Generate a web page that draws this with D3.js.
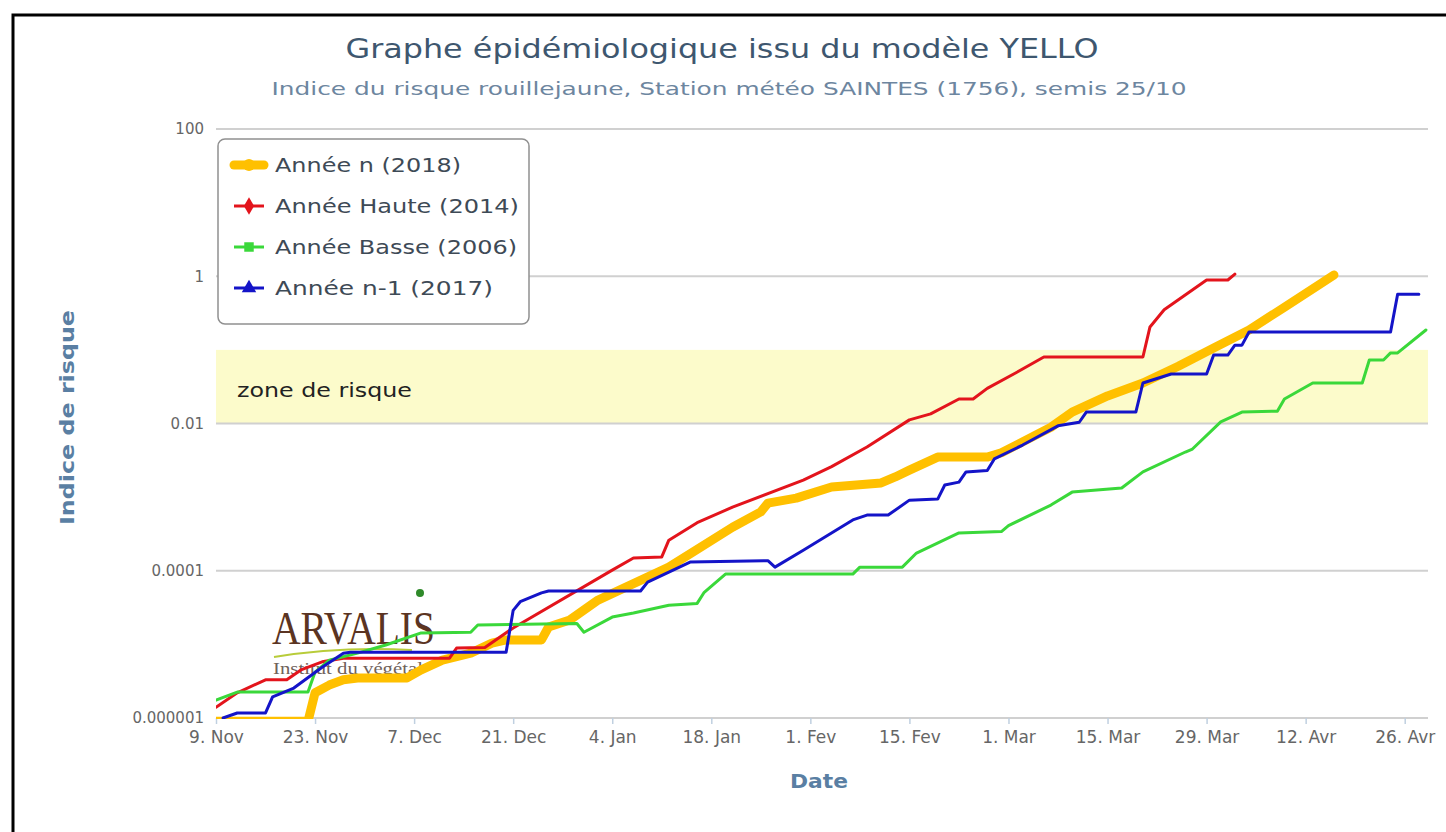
<!DOCTYPE html>
<html>
<head>
<meta charset="utf-8">
<title>Graphe épidémiologique issu du modèle YELLO</title>
<style>
  body { margin: 0; background: #fff; }
  svg { display: block; font-family: "DejaVu Sans", sans-serif; }
</style>
</head>
<body>
<script src="https://d3js.org/d3.v7.min.js"></script>
<script>

// series: [month-day, risk index]
var serieN = [["11-09",9e-7],["11-22",9e-7],["11-23",2.2e-6],["11-25",2.8e-6],["11-27",3.3e-6],["11-29",3.5e-6],
  ["12-06",3.5e-6],["12-08",4.5e-6],["12-11",6.1e-6],["12-15",7.6e-6],["12-18",1.04e-5],["12-20",1.15e-5],
  ["12-25",1.15e-5],["12-26",1.72e-5],["12-29",2.14e-5],["01-02",4.0e-5],["01-12",1.12e-4],["01-21",3.9e-4],
  ["01-25",6.3e-4],["01-26",8.3e-4],["01-30",9.7e-4],["02-04",1.37e-3],["02-11",1.56e-3],["02-13",1.88e-3],
  ["02-15",2.33e-3],["02-19",3.5e-3],["02-26",3.5e-3],["02-28",4.0e-3],["03-07",8.9e-3],["03-10",0.0143],
  ["03-15",0.0237],["03-20",0.0355],["03-25",0.060],["03-30",0.106],["04-04",0.186],["04-09",0.38],
  ["04-14",0.78],["04-16",1.04]];

var serieHaute = [["11-09",1.4e-6],["11-12",2.2e-6],["11-16",3.3e-6],["11-19",3.3e-6],["11-21",4.5e-6],["11-24",5.8e-6],
  ["11-27",6.5e-6],["12-12",6.5e-6],["12-13",8.9e-6],["12-17",9.1e-6],["12-21",1.67e-5],["01-04",1.02e-4],
  ["01-07",1.49e-4],["01-11",1.54e-4],["01-12",2.6e-4],["01-16",4.5e-4],["01-21",7.3e-4],["01-31",1.7e-3],
  ["02-04",2.6e-3],["02-09",4.8e-3],["02-15",0.0112],["02-18",0.0135],["02-22",0.0215],["02-24",0.0215],
  ["02-26",0.030],["03-02",0.0485],["03-06",0.08],["03-20",0.08],["03-21",0.205],["03-23",0.35],
  ["03-29",0.89],["04-01",0.89],["04-02",1.07]];

var serieBasse = [["11-09",1.75e-6],["11-12",2.25e-6],["11-22",2.25e-6],["11-23",4.2e-6],["11-25",6.1e-6],["11-29",7.6e-6],
  ["12-03",9.8e-6],["12-08",1.43e-5],["12-15",1.46e-5],["12-16",1.83e-5],["12-30",1.92e-5],["12-31",1.46e-5],
  ["01-04",2.35e-5],["01-07",2.67e-5],["01-12",3.4e-5],["01-16",3.6e-5],["01-17",5.1e-5],["01-20",9.0e-5],
  ["02-07",9.0e-5],["02-08",1.12e-4],["02-14",1.12e-4],["02-16",1.74e-4],["02-22",3.26e-4],["02-28",3.4e-4],
  ["03-01",4.1e-4],["03-07",7.8e-4],["03-10",1.17e-3],["03-17",1.33e-3],["03-20",2.2e-3],["03-26",4.1e-3],
  ["03-27",4.5e-3],["03-31",0.0105],["04-03",0.0143],["04-08",0.0147],["04-09",0.0215],["04-13",0.0355],
  ["04-20",0.0355],["04-21",0.073],["04-23",0.073],["04-24",0.091],["04-25",0.091],["04-29",0.186]];

var serieN1 = [["11-10",1e-6],["11-12",1.17e-6],["11-16",1.17e-6],["11-17",1.93e-6],["11-20",2.55e-6],["11-24",4.9e-6],
  ["11-27",7.6e-6],["11-28",7.8e-6],["12-20",7.8e-6],["12-21",2.9e-5],["12-22",3.8e-5],["12-25",5.0e-5],
  ["12-26",5.3e-5],["01-08",5.3e-5],["01-09",7.0e-5],["01-12",9.6e-5],["01-15",1.31e-4],["01-26",1.37e-4],
  ["01-27",1.12e-4],["01-31",1.9e-4],["02-07",4.9e-4],["02-09",5.7e-4],["02-12",5.7e-4],["02-15",9.1e-4],
  ["02-19",9.4e-4],["02-20",1.46e-3],["02-22",1.6e-3],["02-23",2.2e-3],["02-26",2.3e-3],["02-27",3.3e-3],
  ["03-03",5.1e-3],["03-08",9.3e-3],["03-11",0.0104],["03-12",0.0143],["03-19",0.0143],["03-20",0.0355],
  ["03-24",0.047],["03-29",0.047],["03-30",0.085],["04-01",0.085],["04-02",0.116],["04-03",0.116],
  ["04-04",0.175],["04-24",0.175],["04-25",0.57],["04-28",0.57]];

var seriesNames = ["Année n (2018)", "Année Haute (2014)", "Année Basse (2006)", "Année n-1 (2017)"];
var seriesColors = ["#ffc000", "#e3141c", "#3ad83a", "#1414c8"];
var seriesSymbols = ["circle", "diamond", "square", "triangle"];

var xTicks = ["11-09","11-23","12-07","12-21","01-04","01-18","02-01","02-15","03-01","03-15","03-29","04-12","04-26"];
var monthNames = ["Jan","Fev","Mar","Avr","Mai","Jun","Jul","Aou","Sep","Oct","Nov","Dec"];
var yTicks = [1e-6, 1e-4, 1e-2, 1, 100];
var yTickLabels = ["0.000001", "0.0001", "0.01", "1", "100"];
var zoneRisque = [0.01, 0.1];

// season runs nov 2017 -> apr 2018
function parseDay(s) {
    var m = +s.slice(0, 2), d = +s.slice(3, 5);
    return new Date(Date.UTC(m >= 9 ? 2017 : 2018, m - 1, d));
}

var W = 1446, H = 832;
var plot = {left: 216, right: 1428, top: 129, bottom: 718};

var x = d3.scaleUtc()
    .domain([parseDay("11-09"), new Date(Date.UTC(2018, 3, 29, 7))])
    .range([plot.left, plot.right]);
var y = d3.scaleLog()
    .domain([1e-6, 100])
    .range([plot.bottom, plot.top]);

var svg = d3.select("body").append("svg")
    .attr("width", W)
    .attr("height", H);

// outer frame
svg.append("rect")
    .attr("x", 13).attr("y", 15)
    .attr("width", W + 20).attr("height", H + 20)
    .attr("fill", "none")
    .attr("stroke", "#000")
    .attr("stroke-width", 3);

// titles
svg.append("text")
    .attr("x", 722).attr("y", 58)
    .attr("text-anchor", "middle")
    .attr("textLength", 753)
    .attr("lengthAdjust", "spacingAndGlyphs")
    .style("font-size", "27px")
    .style("fill", "#3e576f")
    .text("Graphe épidémiologique issu du modèle YELLO");

svg.append("text")
    .attr("x", 729).attr("y", 95)
    .attr("text-anchor", "middle")
    .attr("textLength", 915)
    .attr("lengthAdjust", "spacingAndGlyphs")
    .style("font-size", "18px")
    .style("fill", "#6d869f")
    .text("Indice du risque rouillejaune, Station météo SAINTES (1756), semis 25/10");

// zone de risque band
svg.append("rect")
    .attr("x", plot.left)
    .attr("y", y(zoneRisque[1]))
    .attr("width", plot.right - plot.left)
    .attr("height", y(zoneRisque[0]) - y(zoneRisque[1]))
    .attr("fill", "#fcfbcb");

svg.append("text")
    .attr("x", 237).attr("y", 397)
    .attr("textLength", 175)
    .attr("lengthAdjust", "spacingAndGlyphs")
    .style("font-size", "19px")
    .style("fill", "#222")
    .text("zone de risque");

// grid lines
svg.append("g").selectAll("line")
    .data(yTicks)
    .enter().append("line")
    .attr("x1", plot.left).attr("x2", plot.right)
    .attr("y1", function(d) { return y(d); })
    .attr("y2", function(d) { return y(d); })
    .attr("stroke", "#d0d0d0")
    .attr("stroke-width", 2);

// y axis labels
var yAxis = svg.append("g")
    .attr("transform", "translate(" + plot.left + ",0)")
    .call(d3.axisLeft(y).tickValues(yTicks).tickSize(0).tickPadding(12)
        .tickFormat(function(d, i) { return yTickLabels[i]; }));
yAxis.select(".domain").remove();
yAxis.selectAll("text").style("font-size", "15px").style("fill", "#666").style("font-family", "DejaVu Sans");

// x axis
var xAxis = svg.append("g")
    .attr("transform", "translate(0," + plot.bottom + ")")
    .call(d3.axisBottom(x).tickValues(xTicks.map(parseDay)).tickSize(6).tickPadding(7)
        .tickFormat(function(d) { return d.getUTCDate() + ". " + monthNames[d.getUTCMonth()]; }));
xAxis.select(".domain").remove();
xAxis.selectAll("line").attr("stroke", "#c0d0e0").attr("stroke-width", 1.5);
xAxis.selectAll("text").style("font-size", "17px").style("fill", "#666").style("font-family", "DejaVu Sans");

// axis titles
svg.append("text")
    .attr("transform", "translate(74," + (y(0.01) - 6) + ") rotate(-90)")
    .attr("text-anchor", "middle")
    .attr("textLength", 215)
    .attr("lengthAdjust", "spacingAndGlyphs")
    .style("font-size", "19px")
    .style("font-weight", "bold")
    .style("fill", "#5a7fa3")
    .text("Indice de risque");

svg.append("text")
    .attr("x", 819).attr("y", 788)
    .attr("text-anchor", "middle")
    .attr("textLength", 58)
    .attr("lengthAdjust", "spacingAndGlyphs")
    .style("font-size", "19px")
    .style("font-weight", "bold")
    .style("fill", "#5a7fa3")
    .text("Date");

// ARVALIS logo (behind the series)
var logo = svg.append("g");
logo.append("text")
    .attr("x", 272).attr("y", 644)
    .style("font-family", "Liberation Serif, serif")
    .style("font-size", "46px")
    .style("fill", "#5b3422")
    .attr("textLength", 163)
    .attr("lengthAdjust", "spacingAndGlyphs")
    .text("ARVALIS");
logo.append("path")
    .attr("d", "M274,657 Q340,646 412,650")
    .attr("fill", "none")
    .attr("stroke", "#b8cc3a")
    .attr("stroke-width", 2);
logo.append("circle")
    .attr("cx", 420).attr("cy", 593).attr("r", 4)
    .attr("fill", "#2f8a2a");
logo.append("text")
    .attr("x", 273).attr("y", 674)
    .attr("textLength", 150)
    .attr("lengthAdjust", "spacingAndGlyphs")
    .style("font-family", "Liberation Serif, serif")
    .style("font-size", "17px")
    .style("fill", "#6f625a")
    .text("Institut du végétal");

// series lines
svg.append("clipPath").attr("id", "plotclip")
    .append("rect")
    .attr("x", plot.left).attr("y", plot.top - 10)
    .attr("width", plot.right - plot.left).attr("height", plot.bottom - plot.top + 11);

var line = d3.line()
    .x(function(d) { return x(parseDay(d[0])); })
    .y(function(d) { return y(d[1]); });

var allSeries = [serieN, serieHaute, serieBasse, serieN1];
var widths = [9, 3, 3, 3];

svg.append("g")
    .attr("clip-path", "url(#plotclip)")
    .selectAll("path")
    .data(allSeries)
    .enter().append("path")
    .attr("d", line)
    .attr("fill", "none")
    .attr("stroke", function(d, i) { return seriesColors[i]; })
    .attr("stroke-width", function(d, i) { return widths[i]; })
    .attr("stroke-linejoin", "round")
    .attr("stroke-linecap", "round");

// legend
var legend = svg.append("g");
legend.append("rect")
    .attr("x", 218).attr("y", 139)
    .attr("width", 311).attr("height", 185)
    .attr("rx", 7)
    .attr("fill", "#fff")
    .attr("stroke", "#909090")
    .attr("stroke-width", 1.5);

var legendWidths = [186, 244, 242, 218];
var symbolTypes = {circle: d3.symbolCircle, diamond: d3.symbolDiamond, square: d3.symbolSquare, triangle: d3.symbolTriangle};
var item = legend.selectAll(".item")
    .data(seriesNames)
    .enter().append("g")
    .attr("class", "item")
    .attr("transform", function(d, i) { return "translate(0," + (165 + i * 41) + ")"; });

item.append("line")
    .attr("x1", 234).attr("x2", 264)
    .attr("stroke", function(d, i) { return seriesColors[i]; })
    .attr("stroke-width", function(d, i) { return widths[i]; })
    .attr("stroke-linecap", function(d, i) { return i == 0 ? "round" : "butt"; });
item.append("path")
    .attr("transform", "translate(249,0)")
    .attr("d", function(d, i) { return d3.symbol().type(symbolTypes[seriesSymbols[i]]).size(i == 0 ? 110 : 90)(); })
    .attr("fill", function(d, i) { return seriesColors[i]; });
item.append("text")
    .attr("x", 275).attr("y", 7)
    .attr("textLength", function(d, i) { return legendWidths[i]; })
    .attr("lengthAdjust", "spacingAndGlyphs")
    .style("font-size", "19px")
    .style("fill", "#3e4a56")
    .text(function(d) { return d; });

</script>
</body>
</html>
